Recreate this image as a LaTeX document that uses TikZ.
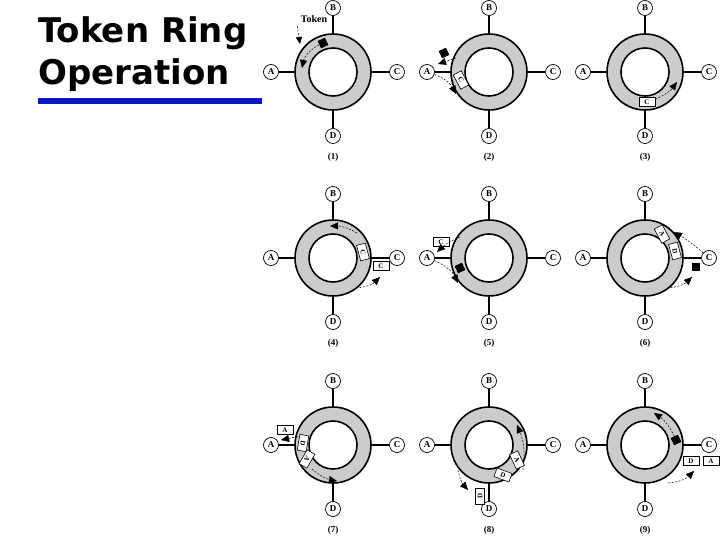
\documentclass[tikz,border=0pt]{standalone}
\usepackage{fontspec}
\setmainfont{Liberation Serif}
\newfontfamily\titlefont{DejaVu Sans}
\usetikzlibrary{arrows.meta}
\definecolor{ringgray}{gray}{0.8}
\definecolor{titleblue}{RGB}{10,20,210}
\tikzset{
 ring/.style={line width=1.6pt},
 spoke/.style={line width=1.6pt},
 st/.style={circle,draw,line width=0.7pt,fill=white,inner sep=0pt,minimum size=15pt,font=\bfseries\small},
 lab/.style={font=\bfseries\small},
 fr/.style={draw,fill=white,line width=0.6pt,inner sep=1pt,minimum width=16pt,minimum height=9pt,font=\bfseries\scriptsize},
 tok/.style={fill=black,minimum size=8pt,inner sep=0pt},
 flow/.style={dashed,line width=0.5pt,dash pattern=on 2pt off 1.5pt,-{Triangle[length=8pt,width=7pt]}},
 thin/.style={dashed,line width=0.5pt,dash pattern=on 2pt off 1.5pt}
}
\newcommand\panel[4]{%
\begin{scope}[shift={(#1,#2)}]
\fill[ringgray] (0,0) circle (38);
\draw[ring] (0,0) circle (38);
\draw[ring,fill=white] (0,0) circle (24);
\node[st] (#4B) at (0,-64) {B};
\node[st] (#4D) at (0,64) {D};
\node[st] (#4A) at (-62,0) {A};
\node[st] (#4C) at (64,0) {C};
\coordinate (#4b) at (0,-38); \coordinate (#4d) at (0,38);
\coordinate (#4a) at (-38,0); \coordinate (#4c) at (38,0);
\draw[spoke] (#4B) -- (#4b); \draw[spoke] (#4D) -- (#4d);
\draw[spoke] (#4A) -- (#4a); \draw[spoke] (#4C) -- (#4c);
\node[lab] (#4L) at (0,85) {(#3)};
\end{scope}}
\begin{document}
\begin{tikzpicture}[x=1pt,y=-1pt]
\useasboundingbox (0,0) rectangle (720,540);
\fill[white] (0,0) rectangle (720,540);
\node[font=\titlefont\bfseries\fontsize{34}{42}\selectfont,anchor=north west,align=left,inner sep=0pt] (title) at (38,16) {Token Ring\\Operation};
\fill[titleblue] (38,98) rectangle (262,104);
\panel{333}{72}{1}{p}
\panel{489}{72}{2}{q}
\panel{645}{72}{3}{r}
\panel{333}{258}{4}{s}
\panel{489}{258}{5}{t}
\panel{645}{258}{6}{u}
\panel{333}{445}{7}{v}
\panel{489}{445}{8}{w}
\panel{645}{445}{9}{x}
% panel 1
\node[tok,rotate=25] (t1) at (323,43) {};
\coordinate (a1) at (302,68);
\draw[flow] (t1) to[bend right=25] (a1);
\node[font=\bfseries\normalsize] (tk) at (314,19) {Token};
\coordinate (tke) at (300,44);
\draw[thin,-{Triangle[length=7pt,width=6pt]}] (tk.south west) -- (tke);
% panel 2
\node[tok,rotate=25] (t2) at (444,53) {};
\coordinate (a2s) at (456,58); \coordinate (a2) at (438,64);
\draw[flow] (a2s) -- (a2);
\node[fr,rotate=-62] (f2) at (461,80) {C};
\coordinate (a2b) at (456,94);
\draw[flow] (qA) to[bend left=20] (a2b);
% panel 3
\node[fr] (f3) at (647,102) {C};
\coordinate (a3) at (677,82);
\draw[flow] (f3) to[bend right=15] (a3);
% panel 4
\coordinate (a4s) at (357,233); \coordinate (a4) at (330,226);
\draw[flow] (a4s) to[bend right=15] (a4);
\node[fr,rotate=-75] (f4) at (363,252) {C};
\node[fr] (g4) at (381,266) {C};
\coordinate (a4bs) at (356,288); \coordinate (a4b) at (380,277);
\draw[flow] (a4bs) to[bend right=20] (a4b);
% panel 5
\node[fr] (f5) at (441,242) {C};
\coordinate (a5s) at (460,237); \coordinate (a5) at (437,252);
\draw[flow] (a5s) to[bend right=10] (a5);
\node[tok,rotate=25] (t5) at (460,268) {};
\coordinate (a5b) at (458,283);
\draw[flow] (tA) to[bend left=20] (a5b);
% panel 6
\node[fr,rotate=-62] (f6a) at (662,234) {A};
\node[fr,rotate=-75] (f6d) at (675,251) {D};
\coordinate (a6) at (674,232);
\draw[flow] (uC) to[bend right=5] (a6);
\node[tok] (t6) at (696,267) {};
\coordinate (a6bs) at (667,288); \coordinate (a6b) at (692,277);
\draw[flow] (a6bs) to[bend right=20] (a6b);
% panel 7
\node[fr] (f7) at (285,430) {A};
\coordinate (a7s) at (301,436); \coordinate (a7) at (281,440);
\draw[flow] (a7s) -- (a7);
\node[fr,rotate=-100] (f7d) at (303,443) {D};
\node[fr,rotate=-120] (f7a) at (307,459) {A};
\coordinate (a7bs) at (312,469); \coordinate (a7b) at (337,481);
\draw[flow] (a7bs) to[bend right=15] (a7b);
% panel 8
\coordinate (a8s) at (523,470); \coordinate (a8) at (517,425);
\draw[flow] (a8s) to[bend right=15] (a8);
\node[fr,rotate=-65] (f8a) at (517,460) {A};
\node[fr,rotate=-20] (f8d) at (503,475) {D};
\node[fr,rotate=90] (g8) at (480,496) {D};
\coordinate (a8bs) at (458,470); \coordinate (a8b) at (468,490);
\draw[flow] (a8bs) to[bend right=15] (a8b);
% panel 9
\node[tok,rotate=25] (t9) at (676,440) {};
\coordinate (a9) at (654,413);
\draw[flow] (t9) to[bend right=15] (a9);
\node[fr] (f9d) at (691,461) {D};
\node[fr] (f9a) at (711,461) {A};
\coordinate (a9bs) at (668,483); \coordinate (a9b) at (694,471);
\draw[flow] (a9bs) to[bend right=20] (a9b);
\end{tikzpicture}
\end{document}
